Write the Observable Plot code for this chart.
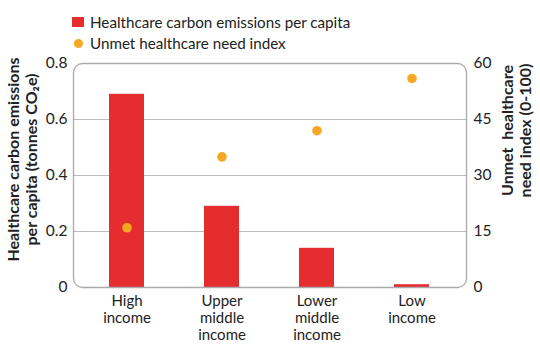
<!DOCTYPE html>
<html>
<head>
<meta charset="utf-8">
<script src="https://cdn.jsdelivr.net/npm/d3@7"></script>
<script src="https://cdn.jsdelivr.net/npm/@observablehq/plot@0.6"></script>
<style>
  html, body { margin: 0; padding: 0; background: #fff; }
  body { width: 540px; height: 350px; overflow: hidden; font-family: Lato, "Open Sans", sans-serif; color: #222; }
  #legend { position: relative; height: 50px; font-size: 15.2px; }
  .row { position: absolute; left: 72px; display: flex; align-items: center; white-space: nowrap; }
  .sw { display: inline-block; margin-right: 6px; }
</style>
</head>
<body>
<div id="legend"></div>
<div id="chart"></div>
<script>
const categories = ["High income", "Upper middle income", "Lower middle income", "Low income"];
const categoryLabels = ["High\nincome", "Upper\nmiddle\nincome", "Lower\nmiddle\nincome", "Low\nincome"];
const emissions = [0.69, 0.29, 0.14, 0.01];
const needIndex = [16, 35, 42, 56];
const emissionTicks = [0, 0.2, 0.4, 0.6, 0.8];
const needTicks = [0, 15, 30, 45, 60];
const seriesNames = ["Healthcare carbon emissions per capita", "Unmet healthcare need index"];
const leftTitle = "Healthcare carbon emissions\nper capita (tonnes CO\u2082e)";
const rightTitle = "Unmet  healthcare\nneed index (0-100)";

const RED = "#e52d2f";
const ORANGE = "#f7a823";
const emMax = 0.8, needMax = 60;
const toLeft = v => v * emMax / needMax;

const data = categories.map((c, i) => ({cat: c, em: emissions[i], need: needIndex[i]}));
const labelOf = Object.fromEntries(categories.map((c, i) => [c, categoryLabels[i]]));

// legend
const legend = document.getElementById("legend");
legend.innerHTML = `
  <div class="row" style="top:13px"><span class="sw" style="width:12px;height:10px;background:${RED}"></span>${seriesNames[0]}</div>
  <div class="row" style="top:34px"><span class="sw" style="width:9px;height:9px;border-radius:50%;background:${ORANGE};margin-left:2px;margin-right:7px"></span>${seriesNames[1]}</div>`;

const chart = Plot.plot({
  width: 540,
  height: 300,
  marginLeft: 73,
  marginRight: 74,
  marginTop: 13,
  marginBottom: 63,
  style: {fontFamily: "Lato, 'Open Sans', sans-serif", fontSize: "15px", color: "#222", background: "#fff"},
  x: {domain: categories, paddingInner: 0.63, paddingOuter: 0.38, axis: null},
  y: {domain: [0, emMax], axis: null},
  marks: [
    Plot.gridY(emissionTicks.slice(1, -1), {stroke: "#bbb", strokeOpacity: 1}),
    Plot.barY(data, {x: "cat", y: "em", fill: RED}),
    Plot.frame({stroke: "#aaa", strokeWidth: 1.3, rx: 9}),
    Plot.dot(data, {x: "cat", y: d => toLeft(d.need), r: 4.8, fill: ORANGE}),
    Plot.axisX({tickSize: 0, tickPadding: 6, tickFormat: d => labelOf[d], fontSize: 15, lineHeight: 1.15, label: null}),
    Plot.axisY({ticks: emissionTicks, tickSize: 0, tickPadding: 6, tickFormat: d => String(d), fontSize: 15.5, label: null}),
    Plot.axisY({anchor: "right", ticks: needTicks.map(toLeft), tickSize: 0, tickPadding: 7, tickFormat: d => String(Math.round(d * needMax / emMax)), fontSize: 15.5, label: null}),
    Plot.text([leftTitle], {frameAnchor: "left", dx: -51, dy: -16, rotate: -90, text: d => d, fontSize: 16, fontWeight: "bold", textAnchor: "middle", lineAnchor: "middle", lineHeight: 1.07}),
    Plot.text([rightTitle], {frameAnchor: "right", dx: 50, dy: -45, rotate: -90, text: d => d, fontSize: 16, fontWeight: "bold", textAnchor: "middle", lineAnchor: "middle", lineHeight: 1.07})
  ]
});
document.getElementById("chart").appendChild(chart);
</script>
</body>
</html>
